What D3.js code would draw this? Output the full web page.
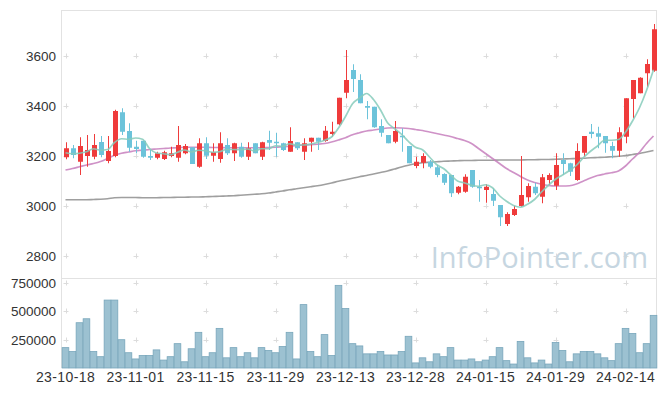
<!doctype html>
<html>
<head>
<meta charset="UTF-8">
<title>candle</title>
<script src="https://d3js.org/d3.v7.min.js"></script>
<style>
    body{ margin:0; background:#fff; }
    text{ font-family:"Liberation Sans", Arial, sans-serif; }
</style>
</head>
<body>
<svg id="chart"></svg>
<script>
var dates = [
 "23-10-18","23-10-19","23-10-20","23-10-23","23-10-24","23-10-25","23-10-26","23-10-27","23-10-30","23-10-31",
 "23-11-01","23-11-02","23-11-03","23-11-06","23-11-07","23-11-08","23-11-09","23-11-10","23-11-13","23-11-14",
 "23-11-15","23-11-16","23-11-17","23-11-20","23-11-21","23-11-22","23-11-23","23-11-24","23-11-27","23-11-28",
 "23-11-29","23-11-30","23-12-01","23-12-04","23-12-05","23-12-06","23-12-07","23-12-08","23-12-11","23-12-12",
 "23-12-13","23-12-14","23-12-15","23-12-18","23-12-19","23-12-20","23-12-21","23-12-22","23-12-26","23-12-27",
 "23-12-28","24-01-02","24-01-03","24-01-04","24-01-05","24-01-08","24-01-09","24-01-10","24-01-11","24-01-12",
 "24-01-15","24-01-16","24-01-17","24-01-18","24-01-19","24-01-22","24-01-23","24-01-24","24-01-25","24-01-26",
 "24-01-29","24-01-30","24-01-31","24-02-01","24-02-02","24-02-05","24-02-06","24-02-07","24-02-08","24-02-13",
 "24-02-14","24-02-15","24-02-16","24-02-19","24-02-20"
];
var opens = [
 3195,3231,3177,3200,3197,3256,3180,3200,3375,3300,
 3237,3261,3200,3193,3188,3200,3193,3211,3235,3157,
 3251,3201,3188,3244,3211,3237,3197,3251,3197,3264,
 3257,3251,3217,3255,3217,3257,3273,3260,3288,3327,
 3453,3544,3504,3400,3397,3320,3284,3257,3281,3240,
 3160,3173,3177,3155,3128,3124,3053,3057,3144,3077,
 3064,3048,3004,2928,2964,3000,3035,3077,3037,3104,
 3081,3184,3171,3104,3213,3297,3291,3280,3240,3221,
 3277,3428,3451,3531,3541
];
var highs = [
 3255,3244,3275,3284,3288,3280,3280,3385,3391,3331,
 3261,3261,3224,3217,3221,3237,3320,3248,3235,3271,
 3275,3251,3295,3271,3253,3253,3255,3251,3257,3301,
 3293,3253,3315,3255,3271,3273,3273,3320,3337,3433,
 3624,3567,3527,3420,3397,3347,3284,3340,3311,3240,
 3197,3211,3184,3164,3131,3124,3080,3127,3144,3104,
 3087,3071,3004,2975,3000,3200,3091,3093,3128,3131,
 3211,3211,3173,3251,3280,3328,3317,3280,3257,3315,
 3431,3504,3515,3587,3728
];
var lows = [
 3187,3191,3124,3157,3187,3195,3171,3195,3284,3217,
 3211,3193,3184,3187,3184,3195,3177,3207,3168,3153,
 3188,3177,3173,3204,3180,3193,3184,3211,3184,3224,
 3197,3220,3217,3224,3184,3217,3224,3257,3277,3323,
 3431,3456,3411,3347,3313,3277,3251,3251,3217,3171,
 3151,3151,3151,3115,3084,3036,3047,3053,3073,3017,
 3013,3000,2920,2920,2960,2997,3017,3044,3011,3084,
 3064,3124,3120,3101,3197,3271,3231,3213,3191,3197,
 3251,3351,3451,3477,3537
];
var closes = [
 3231,3204,3240,3224,3244,3204,3220,3380,3297,3233,
 3228,3197,3193,3211,3215,3211,3244,3240,3168,3251,
 3201,3216,3251,3211,3251,3197,3231,3211,3255,3253,
 3253,3224,3260,3231,3251,3273,3257,3301,3297,3433,
 3504,3508,3411,3393,3315,3293,3251,3300,3275,3171,
 3177,3200,3157,3124,3093,3051,3077,3117,3077,3075,
 3077,3021,2955,2968,2988,3044,3080,3051,3115,3124,
 3164,3168,3137,3220,3280,3288,3277,3251,3221,3295,
 3431,3504,3513,3568,3707
];
var volume = [
 180000,145000,400000,435000,145000,100000,600000,600000,250000,135000,
 80000,110000,110000,160000,70000,100000,215000,55000,170000,315000,
 100000,135000,350000,90000,180000,100000,135000,90000,180000,155000,
 135000,190000,315000,80000,560000,145000,100000,295000,110000,730000,
 525000,215000,195000,125000,125000,145000,115000,115000,145000,280000,
 45000,90000,55000,125000,100000,180000,70000,70000,80000,55000,
 70000,100000,180000,65000,35000,235000,90000,45000,70000,35000,
 225000,155000,55000,125000,145000,145000,125000,90000,65000,215000,
 350000,305000,135000,215000,465000
];
var ma5 = [
 3213,3209,3211,3217,3229,3223,3226,3254,3269,3267,
 3272,3267,3230,3212,3209,3205,3215,3224,3216,3223,
 3221,3215,3217,3226,3226,3225,3228,3220,3229,3229,
 3241,3239,3249,3244,3244,3248,3254,3263,3276,3312,
 3358,3409,3431,3450,3426,3384,3333,3310,3287,3258,
 3235,3225,3196,3166,3150,3125,3100,3092,3083,3079,
 3085,3073,3041,3019,3002,2995,3007,3026,3056,3083,
 3107,3124,3142,3163,3194,3219,3240,3263,3263,3266,
 3295,3340,3393,3462,3545
];
var ma20 = [
 3144,3150,3157,3164,3170,3178,3190,3203,3211,3216,
 3221,3223,3226,3228,3230,3232,3233,3235,3235,3235,
 3235,3234,3234,3233,3233,3233,3233,3233,3233,3234,
 3235,3237,3239,3242,3244,3245,3247,3250,3256,3264,
 3273,3285,3293,3300,3304,3308,3312,3313,3312,3310,
 3306,3302,3296,3290,3284,3278,3270,3262,3250,3230,
 3210,3190,3170,3150,3134,3118,3104,3094,3087,3082,
 3080,3080,3081,3088,3100,3112,3122,3128,3133,3140,
 3160,3188,3215,3250,3280
];
var ma60 = [
 3025,3025,3025,3025,3026,3027,3029,3033,3034,3034,
 3034,3033,3033,3033,3034,3034,3035,3035,3036,3036,
 3037,3038,3039,3040,3041,3043,3045,3047,3049,3052,
 3056,3060,3065,3069,3073,3077,3081,3086,3092,3099,
 3105,3111,3117,3122,3128,3134,3140,3148,3156,3163,
 3169,3173,3175,3177,3179,3180,3181,3182,3182,3183,
 3183,3183,3184,3184,3184,3184,3185,3185,3186,3186,
 3187,3188,3189,3190,3191,3193,3194,3195,3197,3199,
 3202,3206,3210,3216,3222
];
var priceTicks = [2800, 3000, 3200, 3400, 3600];
var volTicks = [250000, 500000, 750000];
var dateTicks = ["23-10-18","23-11-01","23-11-15","23-11-29","23-12-13","23-12-28","24-01-15","24-01-29","24-02-14"];

var w = 665, h = 396;
var padL = 62, padR = 657, padT = 10, padM = 278, padB = 368;

var svg = d3.select("#chart").attr("width", w).attr("height", h);

var x = d3.scaleBand().domain(dates).range([padL, padR]).paddingInner(0.3).paddingOuter(0.15);
var xv = d3.scaleBand().domain(dates).range([padL, padR]).paddingInner(0.05).paddingOuter(0.02);
var y = d3.scaleLinear().domain([2716, 3784]).range([padM - 1, padT]);
var yv = d3.scaleLinear().domain([0, 795000]).range([padB, padM]);

function cx(d){ return x(d) + x.bandwidth() / 2; }

// frame -----------------------------------
var frame = "#e2e2e2";
svg.append("line").attr("x1", padL).attr("x2", padR).attr("y1", padT + 0.5).attr("y2", padT + 0.5).attr("stroke", frame);
svg.append("line").attr("x1", padL).attr("x2", padR).attr("y1", padM + 0.5).attr("y2", padM + 0.5).attr("stroke", frame);
svg.append("line").attr("x1", padL - 0.5).attr("x2", padL - 0.5).attr("y1", padT).attr("y2", padB).attr("stroke", frame);
svg.append("line").attr("x1", padR - 0.5).attr("x2", padR - 0.5).attr("y1", padT).attr("y2", padB).attr("stroke", frame);

// grid crosses ----------------------------
var cross = svg.append("g").attr("stroke", "#dcdcdc").attr("stroke-width", 1);
function plus(px, py){
    cross.append("path").attr("d", "M" + (px - 2.5) + "," + (py + 0.5) + "h5M" + (px + 0.5) + "," + (py - 2.5) + "v5");
}
dateTicks.forEach(function(t){
    var px = Math.round(cx(t));
    priceTicks.forEach(function(v){ plus(px, Math.round(y(v))); });
    volTicks.forEach(function(v){ plus(px, Math.round(yv(v))); });
});

// watermark -------------------------------
svg.append("text").attr("x", 648).attr("y", 268).attr("text-anchor", "end")
   .attr("font-size", 29).attr("fill", "#c6d6e1").style("font-family", "'Open Sans', sans-serif")
   .text("InfoPointer.com");

// volume ----------------------------------
svg.append("g").selectAll("rect").data(dates).enter().append("rect")
   .attr("x", function(d){ return xv(d); })
   .attr("y", function(d, i){ return yv(volume[i]); })
   .attr("width", xv.bandwidth())
   .attr("height", function(d, i){ return padB - yv(volume[i]); })
   .attr("fill", "#9cc1d1")
   .attr("stroke", "#78a6bb")
   .attr("stroke-width", 0.8);

// moving averages -------------------------
function maLine(arr, color){
    var line = d3.line().x(function(d, i){ return cx(dates[i]); }).y(function(d){ return y(d); }).curve(d3.curveMonotoneX);
    svg.append("path").datum(arr).attr("d", line).attr("fill", "none")
       .attr("stroke", color).attr("stroke-width", 1.7).attr("stroke-opacity", 0.85);
}
maLine(ma60, "#8e8e8e");
maLine(ma20, "#c77fbd");

// candles ---------------------------------
var upCol = "#ef3b3b", downCol = "#6cc3da";
function col(i){ return closes[i] >= opens[i] ? upCol : downCol; }
var candle = svg.append("g").selectAll("g").data(dates).enter().append("g");
candle.append("line")
   .attr("x1", function(d){ return Math.round(cx(d)) + 0.5; })
   .attr("x2", function(d){ return Math.round(cx(d)) + 0.5; })
   .attr("y1", function(d, i){ return y(highs[i]); })
   .attr("y2", function(d, i){ return y(lows[i]); })
   .attr("stroke", function(d, i){ return col(i); })
   .attr("stroke-width", 1);
candle.append("rect")
   .attr("x", function(d){ return Math.round(cx(d)) + 0.5 - 2.5; })
   .attr("y", function(d, i){ return y(Math.max(opens[i], closes[i])); })
   .attr("width", 5)
   .attr("height", function(d, i){ return Math.max(1.5, Math.abs(y(opens[i]) - y(closes[i]))); })
   .attr("fill", function(d, i){ return col(i); });

maLine(ma5, "#86cbbb");

// axes ------------------------------------
var ay = svg.append("g").attr("transform", "translate(" + padL + ",0)")
   .call(d3.axisLeft(y).tickValues(priceTicks).tickSize(0).tickPadding(6).tickFormat(d3.format("d")));
var av = svg.append("g").attr("transform", "translate(" + padL + ",0)")
   .call(d3.axisLeft(yv).tickValues(volTicks).tickSize(0).tickPadding(6).tickFormat(d3.format("d")));
var ax = svg.append("g").attr("transform", "translate(0," + padB + ")")
   .call(d3.axisBottom(x).tickValues(dateTicks).tickSize(0).tickPadding(4));

[ay, av, ax].forEach(function(g){
    g.select(".domain").remove();
    g.selectAll("text").attr("font-size", 13.5).attr("fill", "#333").style("font-family", "'Liberation Sans', Arial, sans-serif");
});
ax.selectAll("text").attr("font-size", 14).attr("letter-spacing", 0.4);
</script>
</body>
</html>
